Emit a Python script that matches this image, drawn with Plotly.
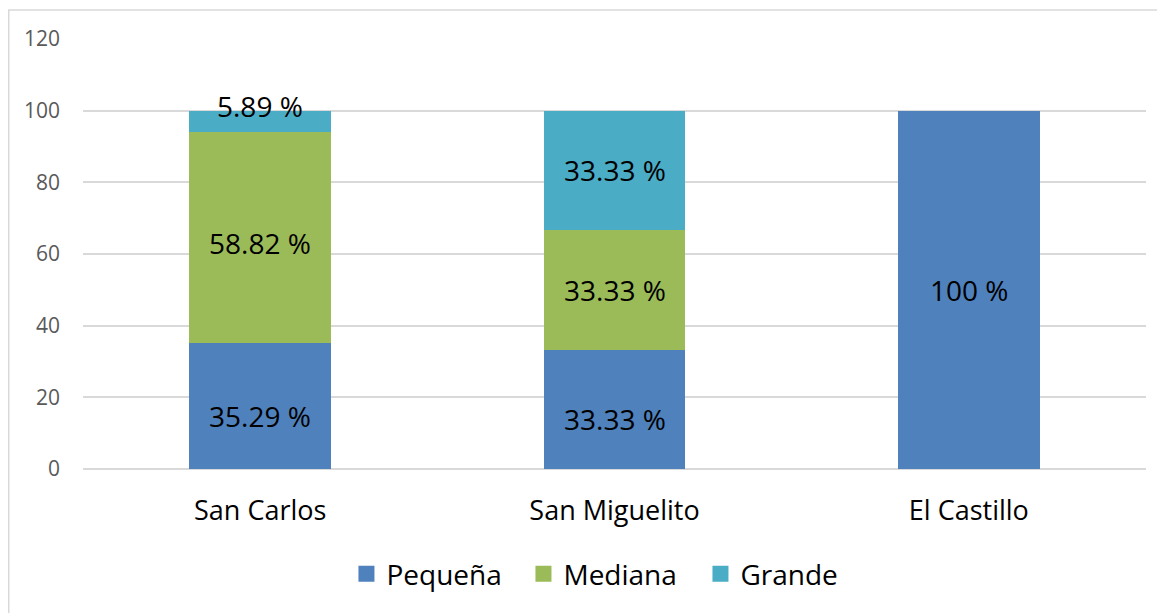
import plotly.graph_objects as go

categories = ["San Carlos", "San Miguelito", "El Castillo"]
pequena = [35.29, 33.33, 100]
mediana = [58.82, 33.33, 0]
grande = [5.89, 33.33, 0]
series_names = ["Pequeña", "Mediana", "Grande"]
colors = ["#4F81BD", "#9BBB59", "#4BACC6"]
y_ticks = [0, 20, 40, 60, 80, 100, 120]

series = [pequena, mediana, grande]

fig = go.Figure()
for name, vals, col in zip(series_names, series, colors):
    fig.add_trace(go.Bar(x=categories, y=vals, name=name, showlegend=False,
                         marker=dict(color=col, line=dict(width=0))))
# legend proxies (square keys)
for name, col in zip(series_names, colors):
    fig.add_trace(go.Scatter(x=[None], y=[None], mode="markers", name=name,
                             marker=dict(symbol="square", size=18, color=col, line=dict(width=0))))

FONT = "Open Sans, DejaVu Sans, sans-serif"
annotations = []
for i, cat in enumerate(categories):
    base = 0
    for vals in series:
        v = vals[i]
        if v > 0:
            txt = ("%g" % v) + " %"
            yshift = 0
            if v < 10:
                yshift = 15
            elif base == 0 and v < 50:
                yshift = -10
            elif base > 0 and base < 50 and v > 50:
                yshift = -6
            annotations.append(dict(x=cat, y=base + v / 2, text=txt, showarrow=False,
                                    xref="x", yref="y", yshift=yshift,
                                    font=dict(family=FONT, size=28, color="#000000")))
        base += v

W, H = 1157, 605
ML, MR, MT, MB = 75, 19, 31, 144
PW, PH = W - ML - MR, H - MT - MB

fig.update_layout(
    barmode="stack",
    bargap=0.6,
    width=W, height=H,
    paper_bgcolor="white", plot_bgcolor="white",
    margin=dict(l=ML, r=MR, t=MT, b=MB),
    font=dict(family=FONT),
    annotations=annotations,
    showlegend=True,
    legend=dict(orientation="h", xref="container", x=0.522, xanchor="center",
                yref="container", y=0.0645, yanchor="middle",
                font=dict(family=FONT, size=28, color="#000000"),
                itemwidth=30, entrywidth=132, traceorder="normal", itemsizing="trace"),
    shapes=[dict(type="rect", xref="paper", yref="paper",
                 x0=(0.75 - ML) / PW, x1=(W + 20 - ML) / PW,
                 y0=-(MB + 40) / PH, y1=1 + (MT - 2) / PH,
                 line=dict(color="#D9D9D9", width=1.5), fillcolor="rgba(0,0,0,0)", layer="below")],
    xaxis=dict(showgrid=False, showline=False, ticks="",
               tickfont=dict(family=FONT, size=27, color="#000000"), ticklabelstandoff=23),
    yaxis=dict(range=[0, 120], tickvals=y_ticks, showgrid=True, gridcolor="#D9D9D9", gridwidth=1.5,
               zeroline=True, zerolinecolor="#D9D9D9", zerolinewidth=1.5, showline=False, ticks="",
               tickfont=dict(family=FONT, size=21, color="#595959"), ticklabelstandoff=22),
)

fig.write_html("out.html")
